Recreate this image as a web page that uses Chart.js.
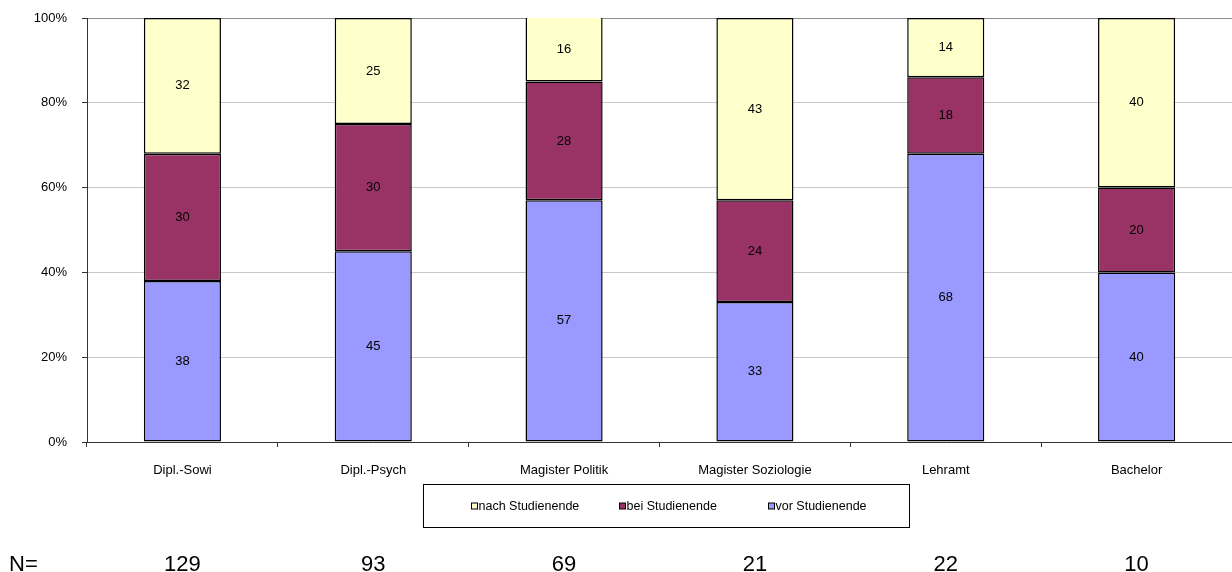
<!DOCTYPE html>
<html>
<head>
<meta charset="utf-8">
<script src="https://cdn.jsdelivr.net/npm/chart.js@4/dist/chart.umd.min.js"></script>
<style>
  html, body { margin: 0; padding: 0; background: #fff; }
  #wrap { width: 1232px; height: 572px; position: relative; }
</style>
</head>
<body>
<div id="wrap"><canvas id="c"></canvas></div>
<script>
// Studiengänge und Anteile (in %) – Zeitpunkt relativ zum Studienende
const categories = ['Dipl.-Sowi', 'Dipl.-Psych', 'Magister Politik', 'Magister Soziologie', 'Lehramt', 'Bachelor'];
const vorStudienende  = [38, 45, 57, 33, 68, 40];
const beiStudienende  = [30, 30, 28, 24, 18, 20];
const nachStudienende = [32, 25, 16, 43, 14, 40];
const sampleSizes     = [129, 93, 69, 21, 22, 10];
const yTickValues     = [0, 20, 40, 60, 80, 100];

const FONT = '"Liberation Sans", Arial, sans-serif';

// Werte mittig in jedes Segment schreiben
const segmentLabels = {
  id: 'segmentLabels',
  afterDatasetsDraw(chart) {
    const ctx = chart.ctx;
    const top = chart.chartArea.top;
    ctx.save();
    ctx.font = '13px ' + FONT;
    ctx.fillStyle = '#000';
    ctx.textAlign = 'center';
    ctx.textBaseline = 'middle';
    chart.data.datasets.forEach((ds, di) => {
      const meta = chart.getDatasetMeta(di);
      meta.data.forEach((el, i) => {
        const p = el.getProps(['x', 'y', 'base'], true);
        const y1 = Math.max(Math.min(p.y, p.base), top);
        const y2 = Math.max(p.y, p.base);
        ctx.fillText(String(ds.data[i]), p.x, (y1 + y2) / 2);
      });
    });
    ctx.restore();
  }
};

// Legende im Rahmen und N-Zeile unter dem Diagramm
const legendAndN = {
  id: 'legendAndN',
  afterDraw(chart) {
    const ctx = chart.ctx;
    const area = chart.chartArea;
    const xs = chart.scales.x;
    ctx.save();

    // Legendenrahmen
    const boxW = 486, boxH = 43;
    const boxX = Math.round((area.left + area.right) / 2 - boxW / 2 + 6) + 0.5;
    const boxY = 484.5;
    ctx.strokeStyle = '#000';
    ctx.lineWidth = 1;
    ctx.strokeRect(boxX, boxY, boxW, boxH);

    const order = [2, 1, 0];
    ctx.font = '12.5px ' + FONT;
    ctx.textBaseline = 'middle';
    ctx.textAlign = 'left';
    order.forEach((di, k) => {
      const ds = chart.data.datasets[di];
      const sx = Math.round(boxX + 47 + k * 148.5) + 0.5;
      const cy = 506.5;
      ctx.fillStyle = ds.backgroundColor;
      ctx.fillRect(sx, cy - 3.5, 6, 6);
      ctx.strokeStyle = '#000';
      ctx.strokeRect(sx, cy - 3.5, 6, 6);
      ctx.fillStyle = '#000';
      ctx.fillText(ds.label, sx + 7, cy);
    });

    // Fallzahlen
    ctx.font = '22px ' + FONT;
    ctx.fillStyle = '#000';
    ctx.textBaseline = 'middle';
    ctx.textAlign = 'left';
    ctx.fillText('N=', 9, 565);
    ctx.textAlign = 'center';
    sampleSizes.forEach((n, i) => {
      ctx.fillText(String(n), xs.getPixelForValue(i), 565);
    });
    ctx.restore();
  }
};

new Chart(document.getElementById('c'), {
  type: 'bar',
  data: {
    labels: categories,
    datasets: [
      { label: 'vor Studienende',  data: vorStudienende,  backgroundColor: '#9999FF' },
      { label: 'bei Studienende',  data: beiStudienende,  backgroundColor: '#993366' },
      { label: 'nach Studienende', data: nachStudienende, backgroundColor: '#FFFFCC' }
    ]
  },
  options: {
    responsive: true,
    maintainAspectRatio: false,
    animation: false,
    devicePixelRatio: 1,
    layout: { padding: { top: 18, right: 0, left: 0, bottom: 0 } },
    datasets: {
      bar: {
        categoryPercentage: 1.0,
        barPercentage: 0.404,
        borderColor: '#000',
        borderWidth: 1.5,
        borderSkipped: false
      }
    },
    plugins: {
      legend: { display: false },
      tooltip: { enabled: false }
    },
    scales: {
      x: {
        stacked: true,
        afterFit(scale) {
          scale.height = 130;
          scale.paddingLeft = 0;
          scale.paddingRight = 0;
        },
        border: { color: '#333', width: 1 },
        grid: {
          offset: true,
          drawOnChartArea: false,
          drawTicks: true,
          tickLength: 5,
          color: '#333',
          tickColor: '#333'
        },
        ticks: {
          padding: 16,
          color: '#000',
          font: { family: FONT, size: 13 },
          maxRotation: 0,
          autoSkip: false
        }
      },
      y: {
        stacked: true,
        min: 0,
        max: 100,
        afterFit(scale) {
          scale.width = 87;
          scale.paddingTop = 0;
          scale.paddingBottom = 0;
        },
        afterBuildTicks(scale) { scale.ticks = yTickValues.map(v => ({ value: v })); },
        border: { color: '#333', width: 1 },
        grid: {
          drawTicks: true,
          tickLength: 5,
          tickColor: '#333',
          color: (c) => (c.tick && c.tick.value === 100 ? '#8c8c8c' : '#c8c8c8')
        },
        ticks: {
          padding: 15,
          color: '#000',
          font: { family: FONT, size: 13 },
          callback: (v) => v + '%'
        }
      }
    }
  },
  plugins: [segmentLabels, legendAndN]
});
</script>
</body>
</html>
